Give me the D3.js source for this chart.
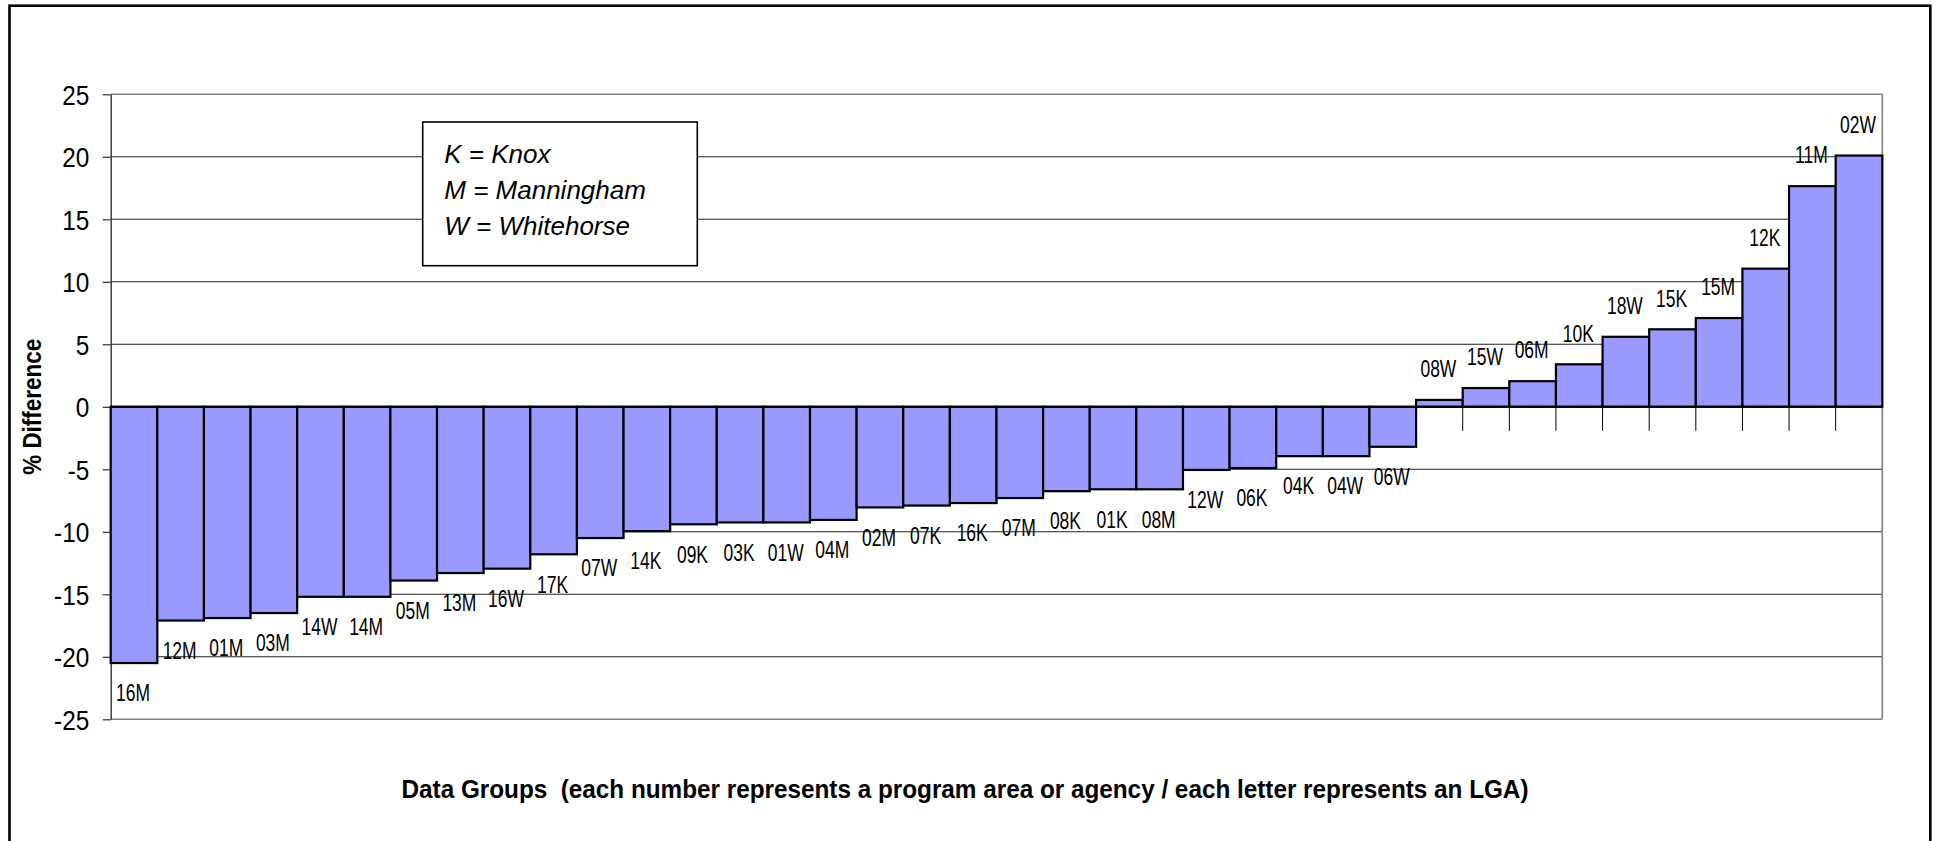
<!DOCTYPE html>
<html>
<head>
<meta charset="utf-8">
<script src="https://cdn.jsdelivr.net/npm/d3@7"></script>
<style>
  body { margin: 0; background: #fff; }
  svg { display: block; font-family: "Liberation Sans", Arial, sans-serif; }
</style>
</head>
<body>
<script>
// data (% difference per data group, sorted)
const categories = [
  '16M', '12M', '01M', '03M', '14W', '14M', '05M', '13M', '16W', '17K',
  '07W', '14K', '09K', '03K', '01W', '04M', '02M', '07K', '16K', '07M',
  '08K', '01K', '08M', '12W', '06K', '04K', '04W', '06W', '08W', '15W',
  '06M', '10K', '18W', '15K', '15M', '12K', '11M', '02W',
];
const values = [
  -20.5, -17.1, -16.9, -16.5, -15.2, -15.2, -13.9, -13.3, -12.95, -11.8,
  -10.5, -9.95, -9.4, -9.25, -9.25, -9.05, -8.05, -7.9, -7.7, -7.3,
  -6.75, -6.6, -6.6, -5.05, -4.9, -3.95, -3.95, -3.2, 0.55, 1.5,
  2.05, 3.4, 5.6, 6.2, 7.1, 11.05, 17.65, 20.1,
];
const yTicks = [-25, -20, -15, -10, -5, 0, 5, 10, 15, 20, 25];
const legendLines = ['K = Knox', 'M = Manningham', 'W = Whitehorse'];
const yTitle = '% Difference';
const xTitle = 'Data Groups  (each number represents a program area or agency / each letter represents an LGA)';

const width = 1934;
const height = 841;
const plot = { left: 110.7, right: 1882.3, top: 94.3, bottom: 719.3 };

const svg = d3.select('body').append('svg')
  .attr('width', width)
  .attr('height', height)
  .attr('viewBox', [0, 0, width, height]);

svg.append('rect')
  .attr('width', width).attr('height', height)
  .attr('fill', '#fff');

// outer chart frame (bottom edge runs off the picture)
svg.append('rect')
  .attr('x', 9.5).attr('y', 5.7)
  .attr('width', 1930.3 - 9.5).attr('height', 860)
  .attr('fill', 'none')
  .attr('stroke', '#000')
  .attr('stroke-width', 2.6);

const x = d3.scaleBand()
  .domain(categories)
  .range([plot.left, plot.right])
  .padding(0);

const y = d3.scaleLinear()
  .domain([-25, 25])
  .range([plot.bottom, plot.top]);

// gridlines
svg.append('g')
  .selectAll('line')
  .data(yTicks)
  .join('line')
  .attr('x1', plot.left)
  .attr('x2', plot.right)
  .attr('y1', (d) => y(d))
  .attr('y2', (d) => y(d))
  .attr('stroke', (d) => (d === 25 || d === -25 ? '#808080' : '#222'))
  .attr('stroke-width', (d) => (d === 25 || d === -25 ? 1.6 : 1.1));

// plot area right border
svg.append('line')
  .attr('x1', plot.right).attr('x2', plot.right)
  .attr('y1', plot.top).attr('y2', plot.bottom)
  .attr('stroke', '#808080')
  .attr('stroke-width', 1.6);

// category ticks hanging under the zero line
svg.append('g')
  .selectAll('line')
  .data(categories.slice(1))
  .join('line')
  .attr('x1', (d) => x(d))
  .attr('x2', (d) => x(d))
  .attr('y1', y(0))
  .attr('y2', y(0) + 24)
  .attr('stroke', '#000')
  .attr('stroke-width', 1);

// y axis
const yAxis = svg.append('g')
  .attr('transform', `translate(${plot.left},0)`)
  .call(d3.axisLeft(y).tickValues(yTicks).tickSize(8).tickSizeOuter(0).tickFormat((d) => `${d}`));

yAxis.select('.domain').attr('stroke', '#333').attr('stroke-width', 1.4);
yAxis.selectAll('.tick line').attr('stroke', '#333').attr('stroke-width', 1.2);
yAxis.selectAll('.tick text')
  .attr('x', -24.6)
  .attr('dy', '0.36em')
  .attr('transform', 'scale(0.87,1)')
  .attr('font-size', 28)
  .attr('font-family', '"Liberation Sans", Arial, sans-serif')
  .attr('fill', '#000');

// bars
svg.append('g')
  .selectAll('rect')
  .data(values)
  .join('rect')
  .attr('x', (d, i) => x(categories[i]))
  .attr('width', x.bandwidth())
  .attr('y', (d) => y(Math.max(0, d)))
  .attr('height', (d) => Math.abs(y(d) - y(0)))
  .attr('fill', '#9999FF')
  .attr('stroke', '#000')
  .attr('stroke-width', 2.2);

// zero line
svg.append('line')
  .attr('x1', plot.left).attr('x2', plot.right)
  .attr('y1', y(0)).attr('y2', y(0))
  .attr('stroke', '#000')
  .attr('stroke-width', 2);

// category name labels at the bar ends
svg.append('g')
  .selectAll('text')
  .data(values)
  .join('text')
  .attr('transform', (d, i) => {
    const cx = x(categories[i]) + x.bandwidth() / 2 - 1;
    const cy = d < 0 ? y(d) + 30 : y(d) - 31;
    return `translate(${cx},${cy}) scale(0.76,1)`;
  })
  .attr('text-anchor', 'middle')
  .attr('dy', '0.36em')
  .attr('font-size', 23)
  .attr('fill', '#000')
  .text((d, i) => categories[i]);

// legend text box
const legend = svg.append('g');
legend.append('rect')
  .attr('x', 422.7).attr('y', 122)
  .attr('width', 697.3 - 422.7).attr('height', 265.7 - 122)
  .attr('fill', '#fff')
  .attr('stroke', '#000')
  .attr('stroke-width', 1.6);
legend.selectAll('text')
  .data(legendLines)
  .join('text')
  .attr('x', 444.3)
  .attr('y', (d, i) => 163.3 + i * 36)
  .attr('font-size', 26)
  .attr('font-style', 'italic')
  .attr('fill', '#000')
  .text((d) => d);

// axis titles
svg.append('text')
  .attr('transform', `translate(41,${(plot.top + plot.bottom) / 2}) rotate(-90)`)
  .attr('text-anchor', 'middle')
  .attr('font-size', 26)
  .attr('font-weight', 'bold')
  .attr('textLength', 136)
  .attr('lengthAdjust', 'spacingAndGlyphs')
  .text(yTitle);

svg.append('text')
  .attr('x', 965)
  .attr('y', 798)
  .attr('text-anchor', 'middle')
  .attr('font-size', 25)
  .attr('font-weight', 'bold')
  .attr('textLength', 1127)
  .attr('lengthAdjust', 'spacingAndGlyphs')
  .style('white-space', 'pre')
  .text(xTitle);
</script>
</body>
</html>
